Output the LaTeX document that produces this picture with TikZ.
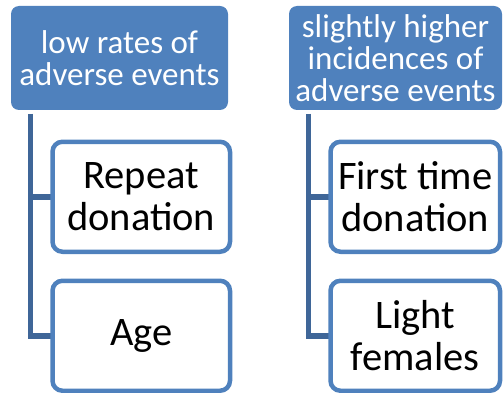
\documentclass[tikz,border=0pt]{standalone}
\usepackage{fontspec}
\setmainfont{Carlito}
\usepackage{xcolor}
\usepackage{tikz}
\definecolor{headblue}{HTML}{4F81BD}
\definecolor{linkblue}{HTML}{3F6698}

\begin{document}
\begin{tikzpicture}[x=1pt,y=1pt,
    head/.style={fill=headblue,rounded corners=8pt,text=white,align=center,
        inner sep=0pt,minimum height=104pt,font=\fontsize{33}{32}\selectfont},
    item/.style={draw=headblue,fill=white,line width=4.5pt,rounded corners=10pt,
        align=center,inner sep=0pt,minimum height=110pt,font=\fontsize{40.5}{42}\selectfont},
    link/.style={draw=linkblue,line width=5.5pt}]
    \useasboundingbox (0,0) rectangle (503,-393);
    % left column
    \node[head,minimum width=217pt] (lowhead) at (119.5,-58) {low rates of\\adverse events};
    \coordinate (lowtop) at (30.5,-114);
    \draw[link] (lowtop) |- (52,-196.75);
    \draw[link] (lowtop) |- (52,-335.75);
    \node[item,minimum width=177.5pt] (repeat) at (141.25,-196.75) {Repeat\\donation};
    \node[item,minimum width=177.5pt] (age) at (141.25,-335.75) {Age};
    % right column
    \node[head,minimum width=213pt] (highhead) at (395.5,-58) {slightly higher\\incidences of\\adverse events};
    \coordinate (hightop) at (308.5,-114);
    \draw[link] (hightop) |- (330,-196.75);
    \draw[link] (hightop) |- (330,-335.75);
    \node[item,minimum width=169.5pt] (first) at (415.25,-196.75) {First time\\donation};
    \node[item,minimum width=169.5pt] (light) at (415.25,-335.75) {Light\\females};
\end{tikzpicture}
\end{document}
